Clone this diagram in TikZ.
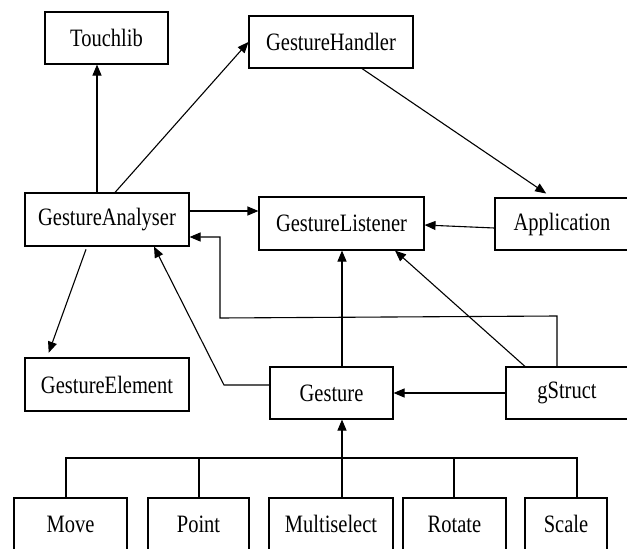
\documentclass[tikz,border=0pt]{standalone}
\usepackage{fontspec}
\setmainfont{Liberation Serif}
\usepackage{graphicx}
\usetikzlibrary{arrows.meta}
\newcommand{\cls}[1]{\scalebox{0.82}[1]{#1}}
\tikzset{
	cbox/.style={draw, line width=1.1pt, rectangle, inner sep=0pt, minimum height=52pt, font=\fontsize{25}{25}\selectfont},
	arr/.style={line width=1.1pt, -{Triangle[length=11pt,width=9pt]}},
	bus/.style={line width=1.1pt}
}
\begin{document}
\begin{tikzpicture}[x=1pt, y=-1pt]
			%%%%% FRAME %%%%%
			\useasboundingbox (0,0) rectangle (627,549);
			
			%%%%% CLASSES %%%%%
			\node[cbox, minimum width=123pt] (touchlib) at (106.5, 38) {\cls{Touchlib}};
			\node[cbox, minimum width=164pt] (handler) at (331, 42) {\cls{GestureHandler}};
			
			\node[cbox, minimum width=164pt, minimum height=53pt] (analyser) at (107, 219.5) {\cls{GestureAnalyser}};
			\node[cbox, minimum width=165pt, minimum height=53pt] (listener) at (341.5, 223.5) {\cls{GestureListener}};
			\node[cbox, minimum width=134pt] (app) at (562, 224) {\cls{Application}};
			
			\node[cbox, minimum width=164pt, minimum height=53pt] (element) at (107, 384.5) {\cls{GestureElement}};
			\node[cbox, minimum width=123pt] (gesture) at (331.5, 393) {\cls{Gesture}};
			\node[cbox, minimum width=122pt] (gstruct) at (567, 393) {\cls{gStruct}};
			
			\node[cbox, minimum width=113pt] (move) at (70.5, 524) {\cls{Move}};
			\node[cbox, minimum width=101pt] (point) at (198.5, 524) {\cls{Point}};
			\node[cbox, minimum width=124pt] (multi) at (331, 524) {\cls{Multiselect}};
			\node[cbox, minimum width=103pt] (rotate) at (454.5, 524) {\cls{Rotate}};
			\node[cbox, minimum width=82pt] (scale) at (566, 524) {\cls{Scale}};
			
			%%%%% ASSOCIATIONS %%%%%
			\draw[arr] (analyser.north -| 97,0) -- (touchlib.south -| 97,0);
			\draw[arr] (analyser.north -| 115,0) -- (handler.west);
			\draw[arr, shorten >=7pt] (handler.south -| 362,0) -- (app.north -| 552,0);
			\draw[arr] (app.west |- 0,228) -- (listener.east |- 0,225);
			\draw[arr] (analyser.east |- 0,211) -- (listener.west |- 0,211);
			\draw[arr, shorten <=3pt, shorten >=5pt] (analyser.south -| 87,0) -- (element.north -| 47,0);
			
			\draw[arr] (gstruct.north -| 557,0) -- (557,316) -- (220,318) -- (220,237) -- (analyser.east |- 0,237);
			\draw[arr] (gesture.west |- 0,385) -- (224,385) -- (analyser.south -| 154,0);
			
			\draw[arr] (gesture.north -| 342,0) -- (listener.south -| 342,0);
			\draw[arr] (gstruct.north -| 525,0) -- (listener.south -| 395,0);
			\draw[arr] (gstruct.west) -- (gesture.east);
			
			%%%%% SUBCLASSES %%%%%
			\draw[bus] (move.north -| 66,0) -- (66,458) -- (577,458) -- (scale.north -| 577,0);
			\draw[bus] (point.north -| 199,0) -- (199,458);
			\draw[bus] (rotate.north -| 454,0) -- (454,458);
			\draw[arr] (multi.north -| 342,0) -- (gesture.south -| 342,0);
			
			%%%%% END %%%%%
\end{tikzpicture}
\end{document}
